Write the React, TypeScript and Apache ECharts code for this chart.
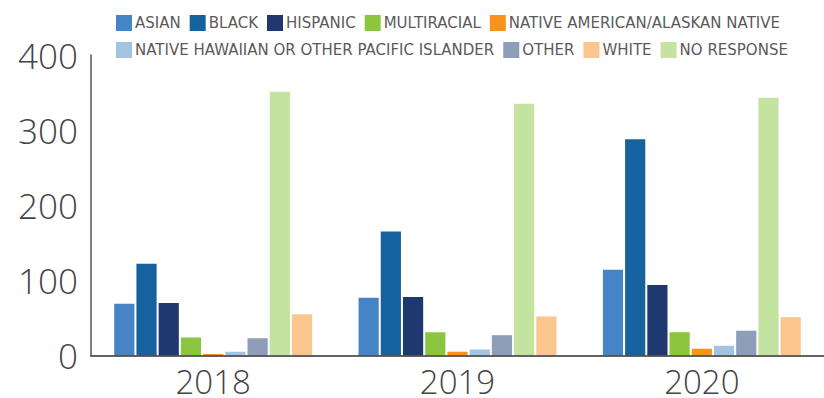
import React, { useEffect, useRef } from "react";
import * as echarts from "echarts";

const years = ["2018", "2019", "2020"];
const seriesNames = [
  "ASIAN",
  "BLACK",
  "HISPANIC",
  "MULTIRACIAL",
  "NATIVE AMERICAN/ALASKAN NATIVE",
  "NATIVE HAWAIIAN OR OTHER PACIFIC ISLANDER",
  "OTHER",
  "NO RESPONSE",
  "WHITE",
];
const asian = [69, 77, 114];
const black = [122, 165, 288];
const hispanic = [70, 78, 94];
const multiracial = [24, 31, 31];
const nativeAmerican = [2, 5, 9];
const nativeHawaiian = [5, 8, 13];
const other = [23, 27, 33];
const noResponse = [351, 335, 343];
const white = [55, 52, 51];
const values = [asian, black, hispanic, multiracial, nativeAmerican, nativeHawaiian, other, noResponse, white];
const colors = ["#4685C5", "#16629F", "#1F3870", "#8CC63E", "#F7921E", "#A2C3E1", "#8E9DB8", "#C5E3A0", "#FAC68D"];
const legendRow1 = ["ASIAN", "BLACK", "HISPANIC", "MULTIRACIAL", "NATIVE AMERICAN/ALASKAN NATIVE"];
const legendRow2 = ["NATIVE HAWAIIAN OR OTHER PACIFIC ISLANDER", "OTHER", "WHITE", "NO RESPONSE"];
const yTicks = [0, 100, 200, 300, 400];

const FONT = "'Open Sans', 'Noto Sans', sans-serif";
const LEGEND_FONT = "'DejaVu Sans', 'Noto Sans', sans-serif";

export default function App() {
  const ref = useRef<HTMLDivElement>(null);
  useEffect(() => {
    if (!ref.current) return;
    const chart = echarts.init(ref.current, null, { renderer: "svg" });
    const legendCommon = {
      left: 111,
      itemWidth: 16,
      itemHeight: 16,
      itemGap: 9,
      icon: "rect",
      textStyle: { fontSize: 15, color: "#5a5a5a", fontFamily: LEGEND_FONT, padding: [0, 0, 0, -2] },
    };
    chart.setOption({
      animation: false,
      grid: { left: 91, right: 0, top: 55, bottom: 42 },
      legend: [
        { ...legendCommon, top: 10, data: legendRow1 },
        { ...legendCommon, top: 37, data: legendRow2 },
      ],
      xAxis: {
        type: "category",
        data: years,
        z: 5,
        axisLine: { lineStyle: { color: "rgba(60,60,60,0.8)", width: 2 } },
        axisTick: { show: false },
        axisLabel: { fontSize: 33, lineHeight: 26, color: "#444", fontFamily: FONT, fontWeight: 300, margin: 13 },
      },
      yAxis: {
        type: "value",
        min: yTicks[0],
        max: yTicks[yTicks.length - 1],
        interval: 100,
        axisLine: { show: true, lineStyle: { color: "#555", width: 1.5 } },
        axisTick: { show: false },
        splitLine: { show: false },
        axisLabel: { fontSize: 35, color: "#444", fontFamily: FONT, fontWeight: 300, margin: 13 },
      },
      series: seriesNames.map((name, i) => ({
        name,
        type: "bar",
        data: values[i],
        itemStyle: { color: colors[i] },
        barGap: "10%",
        barCategoryGap: "19%",
      })),
    });
    return () => chart.dispose();
  }, []);
  return <div ref={ref} style={{ width: 824, height: 398, position: "absolute", left: 0, top: 0 }} />;
}
